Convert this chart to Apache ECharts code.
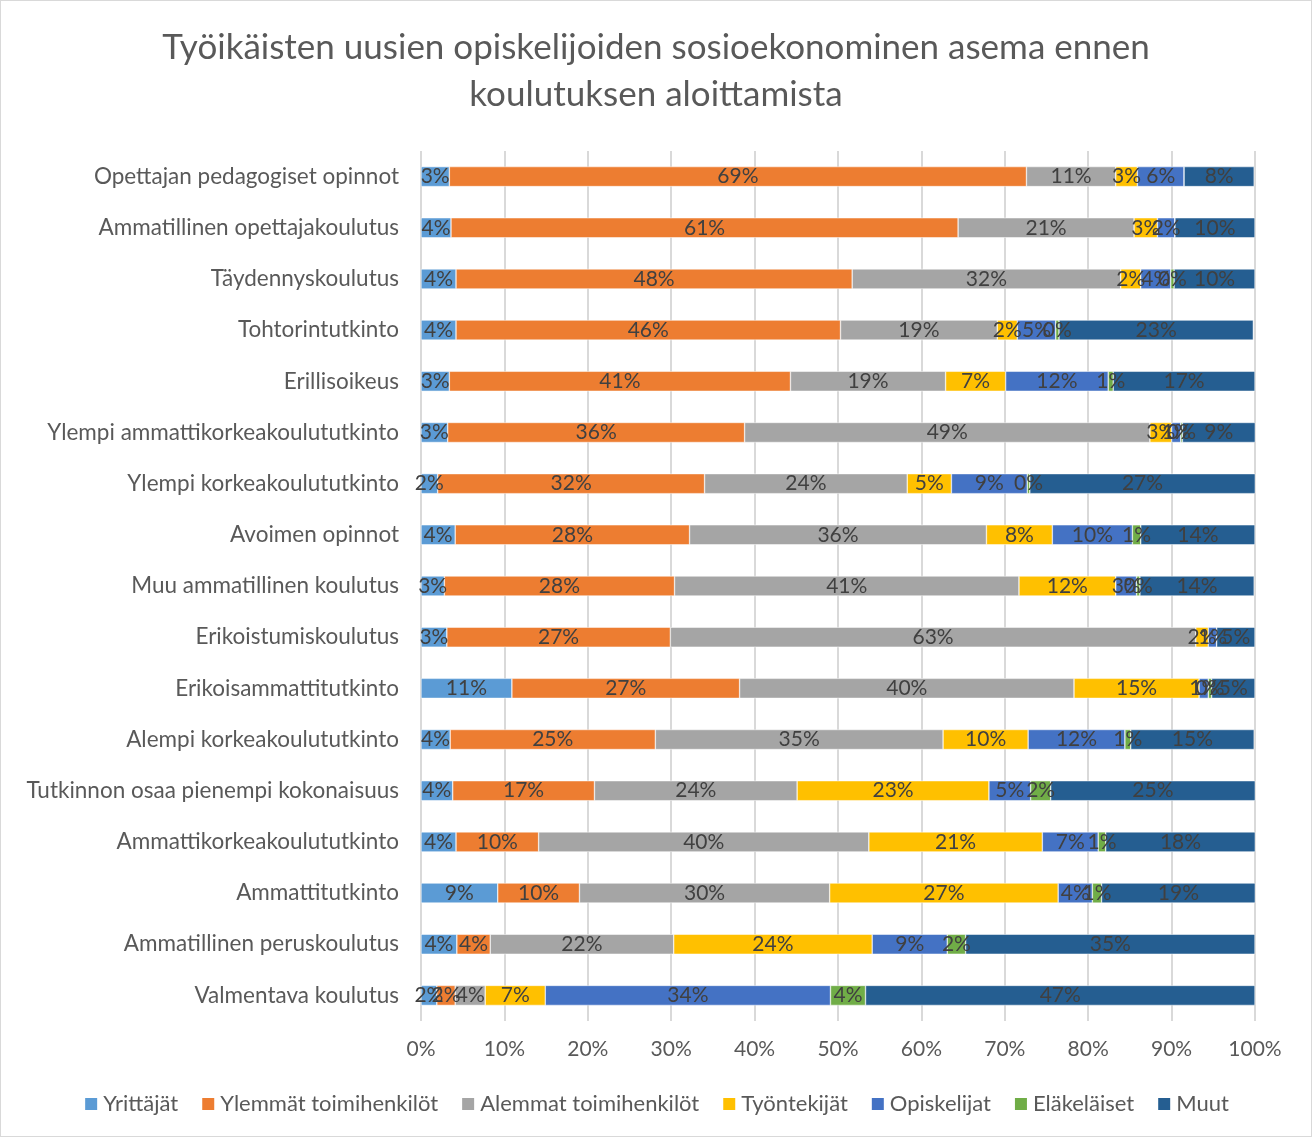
<!DOCTYPE html>
<html>
<head>
<meta charset="utf-8">
<script src="https://cdn.jsdelivr.net/npm/echarts@6/dist/echarts.min.js"></script>
<style>
  html, body { margin: 0; padding: 0; background: #fff; }
  #chart { width: 1310px; height: 1135px; border: 1px solid #d9d9d9; }
</style>
</head>
<body>
<div id="chart"></div>
<script>
var categories = [
	'Opettajan pedagogiset opinnot',
	'Ammatillinen opettajakoulutus',
	'Täydennyskoulutus',
	'Tohtorintutkinto',
	'Erillisoikeus',
	'Ylempi ammattikorkeakoulututkinto',
	'Ylempi korkeakoulututkinto',
	'Avoimen opinnot',
	'Muu ammatillinen koulutus',
	'Erikoistumiskoulutus',
	'Erikoisammattitutkinto',
	'Alempi korkeakoulututkinto',
	'Tutkinnon osaa pienempi kokonaisuus',
	'Ammattikorkeakoulututkinto',
	'Ammattitutkinto',
	'Ammatillinen peruskoulutus',
	'Valmentava koulutus'
];

var seriesNames = ['Yrittäjät', 'Ylemmät toimihenkilöt', 'Alemmat toimihenkilöt', 'Työntekijät', 'Opiskelijat', 'Eläkeläiset', 'Muut'];
var colors = ['#5B9BD5', '#ED7D31', '#A5A5A5', '#FFC000', '#4472C4', '#70AD47', '#255E91'];

// shares in percent, one value per category (top to bottom)
var yrittajat = [3.4, 3.6, 4.2, 4.2, 3.4, 3.2, 2.0, 4.1, 2.8, 3.1, 10.9, 3.5, 3.8, 4.2, 9.2, 4.3, 1.9];
var ylemmat = [69.2, 60.8, 47.5, 46.1, 40.9, 35.6, 32.0, 28.1, 27.6, 26.8, 27.3, 24.6, 17.0, 9.9, 9.8, 4.0, 2.2];
var alemmat = [10.7, 21.1, 32.2, 18.8, 18.6, 48.6, 24.3, 35.6, 41.3, 63.0, 40.1, 34.5, 24.3, 39.6, 30.0, 22.0, 3.6];
var tyontekijat = [2.6, 2.8, 2.4, 2.4, 7.2, 2.6, 5.3, 7.9, 11.6, 1.5, 15.0, 10.2, 23.0, 20.8, 27.4, 23.8, 7.2];
var opiskelijat = [5.6, 2.1, 3.6, 4.6, 12.3, 1.1, 9.1, 9.6, 2.5, 1.0, 1.1, 11.6, 5.0, 6.7, 4.1, 9.0, 34.2];
var elakelaiset = [0, 0, 0.4, 0.4, 0.6, 0.2, 0.3, 1.0, 0.4, 0, 0.4, 0.7, 2.4, 0.9, 1.1, 2.2, 4.2];
var muut = [8.4, 9.6, 9.7, 23.3, 17.0, 9.1, 27.1, 13.7, 13.7, 4.6, 5.2, 14.8, 24.8, 18.1, 18.6, 34.7, 46.7];

var seriesData = [yrittajat, ylemmat, alemmat, tyontekijat, opiskelijat, elakelaiset, muut];
var xTicks = [0, 10, 20, 30, 40, 50, 60, 70, 80, 90, 100];

var font = 'Lato, "Liberation Sans", sans-serif';

(function() {
	var myChart = echarts.init(document.getElementById('chart'));

	var series = seriesNames.map(function(name, i) {
		return {
			name: name,
			type: 'bar',
			stack: 'total',
			barWidth: 20,
			data: seriesData[i],
			itemStyle: {
				color: colors[i],
				borderColor: '#ffffff',
				borderWidth: 0.5
			},
			label: {
				show: true,
				position: 'inside',
				color: '#404040',
				fontFamily: font,
				fontSize: 21,
				formatter: function(p) {
					if (!p.value) return '';
					return Math.round(p.value) + '%';
				}
			}
		};
	});

	var option = {
		animation: false,
		color: colors,
		title: {
			text: 'Työikäisten uusien opiskelijoiden sosioekonominen asema ennen\nkoulutuksen aloittamista',
			left: 'center',
			top: 18,
			textStyle: {
				fontFamily: font,
				fontWeight: 'normal',
				fontSize: 35,
				lineHeight: 47,
				color: '#595959'
			}
		},
		legend: {
			bottom: 16,
			left: 'center',
			itemWidth: 14,
			itemHeight: 14,
			itemGap: 22,
			icon: 'rect',
			data: seriesNames,
			textStyle: {
				fontFamily: font,
				fontSize: 22,
				color: '#595959'
			}
		},
		grid: {
			left: 420,
			right: 56,
			top: 150,
			bottom: 115
		},
		xAxis: {
			type: 'value',
			min: 0,
			max: 100,
			interval: 10,
			axisLine: { show: false },
			axisTick: { show: false },
			splitLine: { lineStyle: { color: '#d9d9d9', width: 2 } },
			axisLabel: {
				margin: 18,
				fontFamily: font,
				fontSize: 21,
				color: '#595959',
				formatter: function(v) {
					return xTicks.indexOf(v) >= 0 ? v + '%' : '';
				}
			}
		},
		yAxis: {
			type: 'category',
			inverse: true,
			data: categories,
			axisLine: { show: false },
			axisTick: { show: false },
			axisLabel: {
				margin: 22,
				fontFamily: font,
				fontSize: 22.5,
				color: '#595959'
			}
		},
		series: series
	};

	myChart.setOption(option);
})();
</script>
</body>
</html>
